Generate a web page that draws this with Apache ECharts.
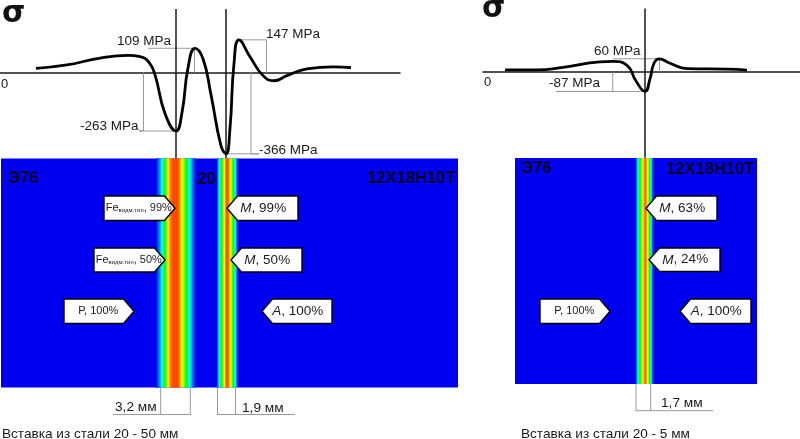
<!DOCTYPE html>
<html>
<head>
<meta charset="utf-8">
<style>html,body{margin:0;padding:0;background:#fff}#chart{width:800px;height:439px}</style>
<script src="https://cdn.jsdelivr.net/npm/echarts@6/dist/echarts.min.js"></script>
</head>
<body>
<div id="chart"></div>
<script>
// stress profiles: [position along the sample, MPa]
const stressLeft = [[36,19],[67,34],[100,65],[128,77],[140,71],[149,46],[155,-11],[165,-184],[176,-263],[182,-180],[188,20],[195,109],[203,62],[211,-100],[221,-330],[226,-366],[230,-250],[234,40],[239,147],[250,71],[263,-14],[274,-37],[287,-14],[307,16],[333,25],[351,22]];
const stressRight = [[505,10],[537,10],[563,21],[600,46],[613,48],[627,30],[636,-40],[645,-87],[650,-30],[654,40],[659,60],[670,40],[687,16],[727,13],[747,9]];

// leader lines from the extrema to the labels
const leadersLeft = [
    [[148,109],[194.5,109],[194.5,0]],
    [[240,147],[266.5,147],[266.5,0]],
    [[143.5,0],[143.5,-263],[139,-263],[176,-263]],
    [[251,0],[251,-366],[259,-366],[226,-366]],
];
const leadersRight = [
    [[613,60],[659.5,60],[659.5,0]],
    [[612.7,0],[612.7,-87],[556,-87],[645,-87]],
];

// weld lines
const weldsLeft = [176, 226];
const weldsRight = [645];

// heat strips, one level per unit of width (0 = blue, 1 = red)
const strip1Start = 156;
const strip1Levels = [.02,.06,.1,.14,.18,.24,.3,.38,.46,.54,.62,.72,.78,.84,.88,.9,.92,.93,.93,.92,.93,.93,.9,.86,.82,.76,.72,.66,.6,.54,.47,.4,.33,.27,.22,.16,.12,.08,.04];
const strip2Start = 217;
const strip2Levels = [.1,.18,.26,.38,.48,.58,.68,.76,.86,.92,.92,.88,.8,.74,.66,.56,.46,.34,.24,.12];
const strip3Start = 636;
const strip3Levels = [.1,.22,.34,.44,.54,.64,.72,.8,.88,.9,.84,.76,.66,.52,.36,.22,.08];

const jet = ['#0000f0', '#00ffff', '#00ff00', '#ffff00', '#ff0000'];
const font = '"Liberation Sans", Arial, sans-serif';
const ink = '#1a1a1a';
const MPA_MAX = 320, MPA_MIN = -400;

const chart = echarts.init(document.getElementById('chart'), null, { renderer: 'canvas' });

const toStrip = (start, levels) => levels.map((v, i) => [start + i, v]);

const stripSeries = (index, data) => ({
    type: 'custom',
    xAxisIndex: index,
    yAxisIndex: index,
    silent: true,
    encode: { x: 0 },
    renderItem: (params, api) => {
        const a = api.coord([api.value(0), 0]);
        const b = api.coord([api.value(0) + 1, 1]);
        return {
            type: 'rect',
            shape: { x: a[0], y: b[1], width: b[0] - a[0] + 0.5, height: a[1] - b[1] },
            style: { fill: api.visual('color') },
        };
    },
    data,
});

const plainLine = (index, data, color, width) => ({
    type: 'line',
    xAxisIndex: index,
    yAxisIndex: index,
    showSymbol: false,
    silent: true,
    lineStyle: { color, width },
    data,
});

const weldLine = (index, x) => plainLine(index, [[x, 286], [x, MPA_MIN + 15]], ink, 1.5);

const series = [
    stripSeries(2, toStrip(strip1Start, strip1Levels)),
    stripSeries(2, toStrip(strip2Start, strip2Levels)),
    stripSeries(3, toStrip(strip3Start, strip3Levels)),
    ...leadersLeft.map((d) => plainLine(0, d, '#9a9a9a', 1)),
    ...leadersRight.map((d) => plainLine(1, d, '#9a9a9a', 1)),
    ...weldsLeft.map((x) => weldLine(0, x)),
    ...weldsRight.map((x) => weldLine(1, x)),
    { ...plainLine(0, stressLeft, '#000', 2.8), smooth: 0.5, z: 5 },
    { ...plainLine(1, stressRight, '#000', 2.8), smooth: 0.5, z: 5 },
];

const curveAxis = (min, max, index) => ({
    type: 'value', gridIndex: index, min, max,
    axisLine: { show: true, onZero: true, lineStyle: { color: ink, width: 1.5 } },
    axisTick: { show: false }, axisLabel: { show: false }, splitLine: { show: false },
});
const hiddenAxis = (min, max, index) => ({ type: 'value', gridIndex: index, min, max, show: false });

// text helper for graphic labels
const label = (x, y, text, size, opts = {}) => ({
    type: 'text', x, y, z: 100, silent: true,
    style: {
        text, fill: opts.fill || ink, align: opts.align || 'left', verticalAlign: 'middle',
        font: `${opts.weight || 'normal'} ${size}px ${opts.family || font}`,
    },
});

const line = (x1, y1, x2, y2) => ({
    type: 'line', z: 20, silent: true,
    shape: { x1, y1, x2, y2 },
    style: { stroke: '#9a9a9a', lineWidth: 1 },
});

// arrow shaped tag, dir 1 points right, -1 points left
const tag = (tipX, backX, top, bottom, rich, text) => {
    const dir = tipX > backX ? 1 : -1;
    const neckX = tipX - dir * 10.5;
    const mid = (top + bottom) / 2;
    return [
        {
            type: 'polygon', z: 50, silent: true,
            shape: { points: [[backX, top], [neckX, top], [tipX, mid], [neckX, bottom], [backX, bottom]] },
            style: { fill: '#fff', stroke: '#000', lineWidth: 1.4 },
        },
        {
            type: 'text', z: 60, silent: true,
            x: (backX + neckX) / 2 + dir * 4.5, y: mid,
            style: { text, rich, align: 'center', verticalAlign: 'middle' },
        },
    ];
};

const rich = {
    fe: { font: `11px ${font}`, fill: ink },
    sub: { font: `6px ${font}`, fill: ink, verticalAlign: 'bottom' },
    val: { font: `11px ${font}`, fill: ink },
    sm: { font: `11px ${font}`, fill: ink },
    it: { font: `italic 13.5px ${font}`, fill: ink },
    reg: { font: `13.5px ${font}`, fill: ink },
};

const sigma = { weight: 'bold', family: '"DejaVu Sans", sans-serif', fill: '#111' };
const steel = { weight: 'bold', fill: '#00001a' };

const graphicItems = [
    label(2, 14, 'σ', 30, sigma),
    label(482, 9, 'σ', 30, sigma),
    label(1, 84, '0', 13),
    label(484, 82, '0', 13),
    label(117, 41, '109 MPa', 13.5),
    label(266, 34, '147 MPa', 13.5),
    label(80, 126, '-263 MPa', 13.5),
    label(259, 150, '-366 MPa', 13.5),
    label(594, 51, '60 MPa', 13.5),
    label(549, 83, '-87 MPa', 13.5),

    label(8, 178, 'Э76', 16.5, steel),
    label(197, 179, '20', 16.5, steel),
    label(455, 178, '12Х18Н10Т', 16.5, { ...steel, align: 'right' }),
    label(521, 168, 'Э76', 16.5, steel),
    label(754, 169, '12Х18Н10Т', 16.5, { ...steel, align: 'right' }),

    ...tag(175, 104, 196, 220.5, rich, '{fe|Fe}{sub|видм.тип}{val|, 99%}'),
    ...tag(165, 94, 248, 272, rich, '{fe|Fe}{sub|видм.тип}{val|, 50%}'),
    ...tag(134, 64, 299, 323.5, rich, '{sm|P, 100%}'),
    ...tag(227, 298, 196, 220.5, rich, '{it|M}{reg|, 99%}'),
    ...tag(231, 302, 248, 272, rich, '{it|M}{reg|, 50%}'),
    ...tag(262, 332, 299, 323.5, rich, '{it|A}{reg|, 100%}'),
    ...tag(646, 717, 196, 220.5, rich, '{it|M}{reg|, 63%}'),
    ...tag(649, 720, 248, 271.5, rich, '{it|M}{reg|, 24%}'),
    ...tag(610, 540, 299, 323.5, rich, '{sm|P, 100%}'),
    ...tag(680, 751, 299, 323.5, rich, '{it|A}{reg|, 100%}'),

    line(160.7, 388, 160.7, 415),
    line(190.3, 388, 190.3, 415),
    line(113, 414.5, 190.3, 414.5),
    line(217.5, 388, 217.5, 415),
    line(235.5, 388, 235.5, 415),
    line(217.5, 414.5, 295, 414.5),
    line(636, 384, 636, 411),
    line(650.7, 384, 650.7, 411),
    line(636, 410.7, 713, 410.7),
    label(115, 407, '3,2 мм', 13.7),
    label(242, 408, '1,9 мм', 13.7),
    label(661, 403, '1,7 мм', 13.7),
    label(2, 434, 'Вставка из стали 20 - 50 мм', 13.6),
    label(521, 434, 'Вставка из стали 20 - 5 мм', 13.6),
];

chart.setOption({
    backgroundColor: '#fff',
    animation: false,
    grid: [
        { left: 0, top: 1.4, width: 400, height: 160 },
        { left: 483, top: 1, width: 317, height: 160 },
        { left: 1, top: 158.5, width: 457, height: 229, show: true, backgroundColor: jet[0], borderWidth: 0 },
        { left: 515, top: 158, width: 242, height: 226, show: true, backgroundColor: jet[0], borderWidth: 0 },
    ],
    xAxis: [
        curveAxis(0, 400, 0),
        curveAxis(483, 800, 1),
        hiddenAxis(1, 458, 2),
        hiddenAxis(515, 757, 3),
    ],
    yAxis: [
        hiddenAxis(MPA_MIN, MPA_MAX, 0),
        hiddenAxis(MPA_MIN, MPA_MAX, 1),
        hiddenAxis(0, 1, 2),
        hiddenAxis(0, 1, 3),
    ],
    visualMap: { show: false, type: 'continuous', min: 0, max: 1, dimension: 1, seriesIndex: [0, 1, 2], inRange: { color: jet } },
    series,
    graphic: { elements: graphicItems },
});
</script>
</body>
</html>
